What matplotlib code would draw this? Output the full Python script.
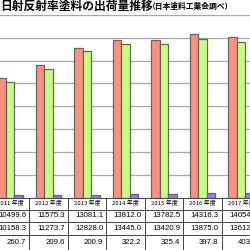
import matplotlib
matplotlib.use("Agg")
import matplotlib.pyplot as plt
import matplotlib.transforms as mtransforms

plt.rcParams['font.family'] = ['Noto Sans CJK JP', 'DejaVu Sans']

years = ["2011 年度", "2012 年度", "2013 年度", "2014 年度", "2015 年度", "2016 年度", "2017 年度"]
series_a = [10499.6, 11575.3, 13081.1, 13812.0, 13782.5, 14316.3, 14054.0]
series_b = [10158.3, 11273.7, 12828.0, 13445.0, 13420.9, 13875.0, 13612.0]
series_c = [260.7, 209.6, 200.9, 322.2, 325.4, 397.8, 403.0]
value_labels_c = ["260.7", "209.6", "200.9", "322.2", "325.4", "397.8", "403.0"]

colors = ["#FF9080", "#C4FF80", "#8C7CFF"]
edge = "#666666"

fig = plt.figure(figsize=(2.5, 2.5), dpi=100)
ax = fig.add_axes([0, 1 - 197.5 / 250, 1, (197.5 - 15) / 250])

x = list(range(len(years)))
w = 0.22
for k, (vals, c) in enumerate(zip([series_a, series_b, series_c], colors)):
    ax.bar([xi + (k - 1) * w for xi in x], vals, width=w, color=c,
           edgecolor=edge, linewidth=0.9, zorder=3)

ax.set_xlim(-0.26, 6.234)
ax.set_ylim(0, 16000)
ax.set_yticks(range(0, 16001, 2000))
ax.yaxis.grid(True, color="#A8A8A8", linewidth=0.9, zorder=0)
ax.set_xticks([])
ax.tick_params(left=False, labelleft=False)
for s in ax.spines.values():
    s.set_visible(False)

# table below
trans = mtransforms.blended_transform_factory(ax.transData, fig.transFigure)
row_edges = [197.5, 209.5, 222, 234.5, 250]
row_edges_f = [1 - r / 250 for r in row_edges]
for yf in row_edges_f[:-1]:
    fig.add_artist(plt.Line2D([0, 1], [yf, yf], color="#444444", linewidth=0.7,
                              transform=fig.transFigure))
for i in range(-1, len(years)):
    fig.add_artist(plt.Line2D([i + 0.5, i + 0.5], [row_edges_f[0], 0], color="#444444",
                              linewidth=0.7, transform=trans))

rows = [[f"{v:.1f}" for v in series_a], [f"{v:.1f}" for v in series_b], value_labels_c]
for i, yr in enumerate(years):
    yc = (row_edges_f[0] + row_edges_f[1]) / 2
    fig.text(i, yc, yr, transform=trans, ha="center", va="center", fontsize=4.3)
    for r in range(3):
        yc = (row_edges_f[r + 1] + row_edges_f[r + 2]) / 2
        fig.text(i + 0.42, yc, rows[r][i], transform=trans, ha="right", va="center",
                 fontsize=5.6, family=["Liberation Sans", "DejaVu Sans"])

fig.text(0.0, 1 - 6 / 250, "日射反射率塗料の出荷量推移", ha="left", va="center",
         fontsize=8.5, fontweight="bold")
fig.text(148 / 250, 1 - 6.5 / 250, "（日本塗料工業会調べ）", ha="left", va="center",
         fontsize=5.6, fontweight="bold")

fig.savefig("out.png", dpi=100)
